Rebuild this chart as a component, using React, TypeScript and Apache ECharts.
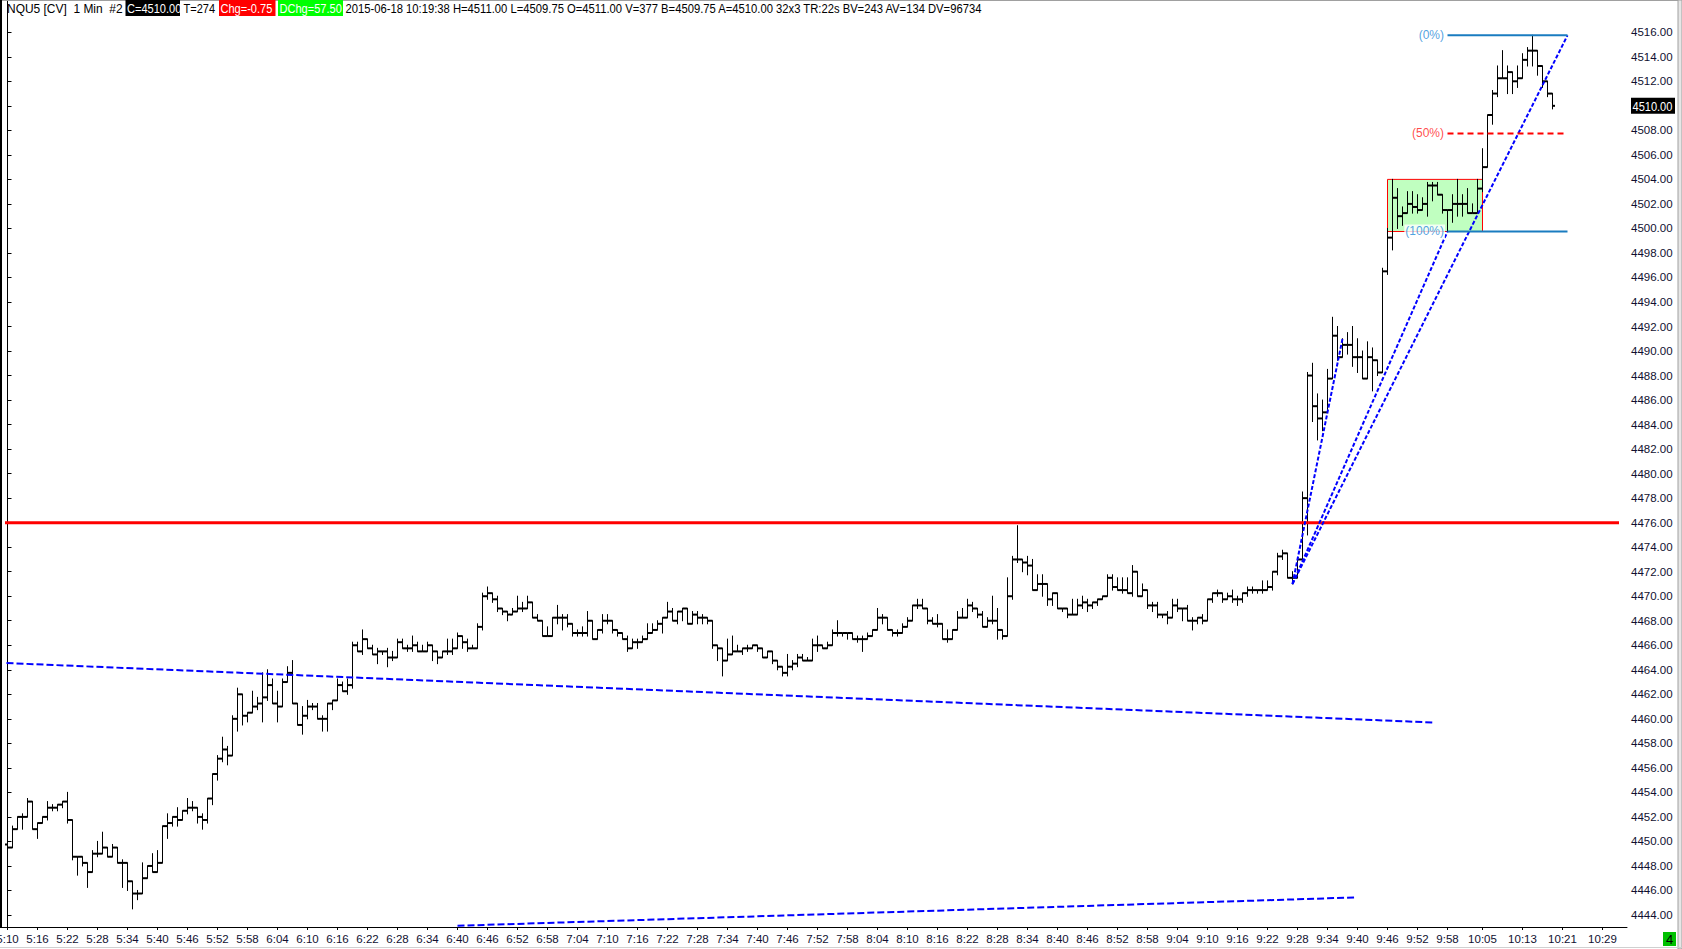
import { useEffect, useRef } from 'react';
import * as echarts from 'echarts';

// NQU5 1-minute bars, 5:10 .. 10:19 (bar index 0 = 5:10)
const START_MINUTE = 5 * 60 + 10;
const FIRST_OPEN = 4449.75;

const HIGHS = [
  4449.75, 4451.25, 4452.0, 4452.25, 4453.5, 4453.25, 4451.5, 4452.0, 4453.25, 4453.0,
  4453.0, 4453.25, 4454.0, 4451.25, 4448.75, 4448.25, 4447.75, 4449.25, 4450.0, 4450.75,
  4449.0, 4449.75, 4449.5, 4448.5, 4447.5, 4446.75, 4446.0, 4448.25, 4448.0, 4449.0,
  4449.25, 4451.25, 4452.25, 4452.0, 4452.75, 4452.5, 4453.5, 4453.25, 4452.25, 4452.25,
  4453.5, 4455.5, 4457.0, 4458.5, 4457.75, 4460.25, 4462.5, 4462.0, 4460.5, 4462.25,
  4461.75, 4463.75, 4464.0, 4463.25, 4462.25, 4463.25, 4464.25, 4464.75, 4461.25, 4461.0,
  4461.5, 4461.25, 4461.25, 4460.25, 4461.25, 4461.5, 4463.25, 4463.0, 4463.25, 4466.25,
  4466.25, 4467.25, 4466.5, 4466.0, 4465.75, 4465.5, 4465.75, 4465.5, 4466.5, 4466.5,
  4466.0, 4466.75, 4466.25, 4466.0, 4466.25, 4465.75, 4465.25, 4465.5, 4466.5, 4466.5,
  4467.0, 4466.75, 4466.5, 4466.0, 4467.75, 4470.25, 4470.75, 4470.25, 4470.0, 4469.0,
  4468.75, 4469.0, 4470.0, 4469.5, 4470.0, 4469.5, 4468.5, 4468.0, 4467.5, 4468.25,
  4469.25, 4468.5, 4468.5, 4467.75, 4467.25, 4467.5, 4468.75, 4467.75, 4467.25, 4468.5,
  4468.5, 4467.25, 4467.25, 4466.75, 4466.75, 4466.5, 4466.5, 4466.75, 4467.75, 4467.75,
  4468.0, 4468.25, 4469.5, 4469.0, 4468.75, 4469.0, 4468.75, 4468.75, 4468.75, 4468.5,
  4468.0, 4468.0, 4466.0, 4465.5, 4466.5, 4466.75, 4466.0, 4465.75, 4466.0, 4466.0,
  4466.0, 4465.5, 4465.5, 4465.0, 4464.75, 4464.25, 4465.25, 4464.75, 4465.25, 4465.25,
  4465.0, 4466.5, 4466.75, 4466.0, 4466.25, 4467.25, 4468.0, 4467.0, 4467.0, 4467.0,
  4466.75, 4466.75, 4467.0, 4467.25, 4469.0, 4468.5, 4468.25, 4467.25, 4467.25, 4467.75,
  4468.25, 4469.25, 4469.75, 4469.75, 4468.75, 4468.25, 4468.5, 4467.75, 4467.25, 4467.25,
  4468.75, 4469.0, 4469.75, 4469.5, 4468.75, 4468.75, 4468.25, 4470.0, 4469.0, 4467.25,
  4471.5, 4473.25, 4475.75, 4473.0, 4473.25, 4473.0, 4471.75, 4471.75, 4470.75, 4470.25,
  4470.25, 4469.0, 4469.0, 4469.75, 4469.75, 4470.0, 4469.75, 4469.5, 4469.75, 4470.0,
  4471.75, 4471.75, 4471.5, 4471.5, 4471.5, 4472.5, 4472.0, 4471.0, 4470.5, 4469.5,
  4469.5, 4468.5, 4468.75, 4469.75, 4469.75, 4469.0, 4469.25, 4468.25, 4468.25, 4468.5,
  4469.75, 4470.25, 4470.5, 4470.25, 4470.25, 4470.5, 4470.0, 4470.25, 4470.75, 4470.75,
  4470.5, 4471.25, 4471.25, 4472.0, 4473.5, 4473.75, 4473.5, 4472.0, 4473.0, 4478.5,
  4488.25, 4489.0, 4486.5, 4486.0, 4488.5, 4492.75, 4492.0, 4491.0, 4491.5, 4492.0,
  4491.0, 4490.0, 4490.75, 4490.25, 4488.5, 4496.75, 4500.0, 4504.0, 4503.25, 4501.75,
  4503.0, 4503.0, 4502.75, 4502.5, 4503.75, 4503.75, 4503.75, 4502.75, 4501.5, 4502.75,
  4504.0, 4502.75, 4503.25, 4502.0, 4504.0, 4506.5, 4509.25, 4511.25, 4513.25, 4514.5,
  4513.25, 4512.75, 4513.25, 4514.25, 4514.75, 4515.75, 4514.25, 4513.25, 4512.0, 4511.0,
];

const LOWS = [
  4449.5, 4449.75, 4451.0, 4451.0, 4452.25, 4451.0, 4450.25, 4451.5, 4451.75, 4452.5,
  4452.5, 4452.75, 4451.5, 4448.5, 4447.25, 4448.0, 4446.25, 4447.5, 4448.75, 4449.25,
  4448.75, 4448.75, 4448.25, 4446.25, 4446.0, 4444.5, 4445.25, 4446.75, 4447.0, 4447.5,
  4448.0, 4449.0, 4450.25, 4451.25, 4451.25, 4451.75, 4452.25, 4452.5, 4451.5, 4451.0,
  4451.5, 4453.0, 4455.0, 4456.5, 4456.25, 4457.0, 4459.0, 4459.5, 4459.75, 4460.5,
  4460.75, 4459.75, 4461.5, 4461.25, 4459.75, 4461.0, 4463.0, 4461.25, 4459.5, 4458.75,
  4460.0, 4460.75, 4460.0, 4459.0, 4459.0, 4460.75, 4461.5, 4462.25, 4462.0, 4462.5,
  4465.5, 4465.25, 4465.75, 4465.25, 4464.5, 4465.25, 4464.25, 4464.75, 4465.25, 4465.75,
  4465.5, 4465.5, 4465.5, 4465.5, 4465.5, 4464.75, 4464.5, 4465.25, 4465.25, 4465.25,
  4466.5, 4465.75, 4465.5, 4465.75, 4465.75, 4467.25, 4469.75, 4469.5, 4468.75, 4468.5,
  4468.0, 4468.5, 4468.75, 4468.75, 4469.0, 4468.25, 4468.0, 4466.75, 4466.75, 4466.75,
  4467.75, 4467.25, 4467.5, 4466.75, 4466.75, 4466.75, 4466.75, 4466.5, 4466.5, 4467.0,
  4467.75, 4467.0, 4466.75, 4466.5, 4465.5, 4465.75, 4465.75, 4466.25, 4466.5, 4467.0,
  4467.25, 4467.0, 4468.5, 4468.0, 4467.75, 4468.0, 4467.75, 4467.75, 4467.75, 4467.75,
  4467.75, 4465.75, 4464.75, 4463.5, 4464.75, 4465.25, 4465.5, 4465.25, 4465.5, 4465.75,
  4465.5, 4465.0, 4465.0, 4464.5, 4464.0, 4463.5, 4463.5, 4464.0, 4464.25, 4464.75,
  4464.75, 4465.0, 4465.5, 4465.75, 4465.75, 4466.0, 4466.75, 4466.75, 4466.5, 4466.5,
  4466.25, 4465.5, 4466.5, 4466.75, 4467.25, 4467.75, 4467.25, 4466.75, 4466.75, 4467.0,
  4467.75, 4468.0, 4469.0, 4469.0, 4467.75, 4467.75, 4467.5, 4466.5, 4466.25, 4466.5,
  4467.25, 4468.25, 4468.75, 4468.75, 4468.25, 4467.5, 4467.5, 4467.75, 4466.5, 4466.5,
  4467.5, 4469.75, 4472.75, 4472.0, 4471.75, 4470.5, 4470.5, 4470.0, 4469.25, 4469.25,
  4469.0, 4468.75, 4468.25, 4468.5, 4468.75, 4469.0, 4468.75, 4469.0, 4469.25, 4469.75,
  4470.25, 4470.5, 4470.5, 4470.25, 4470.25, 4470.0, 4470.0, 4470.25, 4469.0, 4468.75,
  4468.25, 4468.25, 4467.75, 4468.25, 4468.75, 4468.0, 4468.0, 4467.25, 4467.75, 4467.75,
  4468.25, 4469.5, 4470.0, 4469.5, 4469.75, 4469.5, 4469.25, 4469.5, 4470.0, 4470.25,
  4470.25, 4470.25, 4470.5, 4470.5, 4471.75, 4473.0, 4471.5, 4471.0, 4471.5, 4473.0,
  4475.0, 4484.25, 4482.75, 4483.5, 4485.0, 4487.75, 4489.25, 4489.75, 4489.75, 4488.75,
  4488.25, 4487.75, 4487.75, 4486.75, 4488.0, 4488.25, 4496.25, 4498.25, 4500.0, 4500.25,
  4501.25, 4501.25, 4501.25, 4501.5, 4501.0, 4502.25, 4502.75, 4501.25, 4499.75, 4500.5,
  4501.0, 4501.0, 4501.25, 4501.25, 4501.25, 4503.0, 4505.0, 4508.5, 4510.75, 4512.25,
  4511.0, 4511.0, 4511.5, 4512.25, 4513.25, 4513.25, 4512.5, 4511.5, 4510.75, 4509.75,
];

const CLOSES = [
  4449.5, 4451.0, 4452.0, 4452.0, 4453.25, 4451.0, 4451.5, 4452.0, 4452.75, 4452.75,
  4453.0, 4453.25, 4451.75, 4448.75, 4448.75, 4448.25, 4447.5, 4449.0, 4449.0, 4449.5,
  4448.75, 4449.5, 4448.25, 4448.25, 4446.75, 4445.75, 4445.75, 4447.0, 4448.0, 4447.5,
  4448.25, 4451.25, 4451.5, 4452.0, 4451.75, 4452.5, 4452.75, 4452.75, 4452.0, 4451.75,
  4453.5, 4455.5, 4456.75, 4457.5, 4457.0, 4460.0, 4462.0, 4460.25, 4460.5, 4461.0,
  4461.25, 4461.75, 4462.75, 4461.25, 4461.0, 4463.0, 4463.75, 4461.25, 4459.5, 4460.25,
  4461.0, 4461.0, 4460.0, 4460.0, 4461.25, 4461.5, 4462.75, 4462.25, 4462.75, 4466.0,
  4465.5, 4466.5, 4465.75, 4465.25, 4465.5, 4465.5, 4465.0, 4465.0, 4466.25, 4465.75,
  4465.75, 4466.0, 4465.5, 4465.5, 4466.0, 4465.5, 4465.0, 4465.5, 4465.5, 4465.75,
  4466.75, 4466.25, 4465.75, 4465.75, 4467.5, 4470.0, 4470.25, 4469.75, 4469.0, 4468.75,
  4468.5, 4468.75, 4469.0, 4469.0, 4469.5, 4468.25, 4468.0, 4466.75, 4466.75, 4468.25,
  4468.25, 4468.25, 4467.75, 4467.0, 4467.0, 4467.0, 4468.0, 4466.5, 4467.25, 4468.0,
  4468.0, 4467.25, 4467.0, 4466.5, 4465.75, 4466.25, 4466.25, 4466.5, 4467.0, 4467.25,
  4467.75, 4468.25, 4468.75, 4468.0, 4468.75, 4469.0, 4467.75, 4468.5, 4468.25, 4468.25,
  4468.0, 4466.0, 4465.75, 4464.75, 4465.25, 4465.5, 4465.5, 4465.75, 4465.75, 4466.0,
  4465.75, 4465.0, 4465.5, 4464.75, 4464.25, 4463.75, 4464.25, 4464.5, 4465.0, 4464.75,
  4464.75, 4466.0, 4466.0, 4465.75, 4466.0, 4467.0, 4467.0, 4467.0, 4467.0, 4466.5,
  4466.5, 4466.5, 4466.75, 4467.25, 4468.25, 4468.25, 4467.25, 4467.0, 4467.0, 4467.5,
  4468.0, 4469.25, 4469.25, 4469.0, 4468.0, 4467.75, 4467.75, 4466.5, 4466.5, 4467.25,
  4468.25, 4468.25, 4469.25, 4469.0, 4468.5, 4467.5, 4468.0, 4468.0, 4467.25, 4466.75,
  4470.0, 4473.0, 4473.0, 4472.75, 4472.5, 4470.5, 4471.0, 4471.0, 4469.75, 4470.25,
  4469.0, 4469.0, 4468.5, 4468.5, 4469.25, 4469.5, 4469.25, 4469.5, 4469.75, 4470.0,
  4471.5, 4470.75, 4470.5, 4470.5, 4470.25, 4472.0, 4470.0, 4470.5, 4469.25, 4469.25,
  4468.5, 4468.5, 4468.25, 4469.25, 4469.0, 4469.0, 4468.0, 4468.0, 4468.25, 4468.0,
  4469.75, 4470.25, 4470.25, 4469.75, 4470.0, 4469.75, 4469.75, 4470.25, 4470.5, 4470.5,
  4470.5, 4470.5, 4470.75, 4472.0, 4473.25, 4473.5, 4471.5, 4471.5, 4473.0, 4478.0,
  4488.0, 4485.5, 4484.5, 4485.0, 4487.75, 4491.25, 4489.5, 4490.5, 4490.5, 4489.5,
  4489.5, 4487.75, 4489.5, 4489.25, 4488.25, 4496.5, 4499.25, 4502.5, 4501.0, 4501.25,
  4502.0, 4501.75, 4501.5, 4502.0, 4503.5, 4503.5, 4502.75, 4501.5, 4501.5, 4502.0,
  4502.0, 4502.0, 4501.25, 4501.25, 4503.25, 4505.0, 4509.25, 4511.0, 4512.25, 4512.25,
  4512.75, 4512.0, 4512.25, 4513.75, 4514.5, 4514.5, 4513.25, 4512.0, 4511.0, 4510.0,
];

// bar indexes that carry a time label on the bottom axis
const TIME_LABEL_BARS = [
  0, 6, 12, 18, 24, 30, 36, 42, 48, 54, 60, 66, 72, 78, 84, 90, 96, 102, 108, 114,
  120, 126, 132, 138, 144, 150, 156, 162, 168, 174, 180, 186, 192, 198, 204, 210,
  216, 222, 228, 234, 240, 246, 252, 258, 264, 270, 276, 282, 288, 295, 303, 311, 319,
];
const PRICE_TICKS = [
  4444, 4446, 4448, 4450, 4452, 4454, 4456, 4458, 4460, 4462, 4464, 4466, 4468, 4470,
  4472, 4474, 4476, 4478, 4480, 4482, 4484, 4486, 4488, 4490, 4492, 4494, 4496, 4498,
  4500, 4502, 4504, 4506, 4508, 4510, 4512, 4514, 4516,
];

// drawings, in [bar index, price]
const RESISTANCE = [[-0.5, 4476], [322.3, 4476]];
const CHANNEL_UPPER = [[-0.2, 4464.55], [285, 4459.7]];
const CHANNEL_LOWER = [[90, 4443.12], [269.5, 4445.43]];
const FAN_ORIGIN = [257, 4471.0];
const FAN_TARGETS = [[267, 4491.0], [288, 4499.75], [312, 4515.75]];
const FIB_SPAN = [288, 312];
const FIB_LEVELS = [
  { label: '(0%)', price: 4515.75 },
  { label: '(50%)', price: 4507.75 },
  { label: '(100%)', price: 4499.75 },
];
const CONSOLIDATION_BOX = [276, 4504.0, 295, 4499.75];

// header strip: text, left edge, box width, box colour (null = plain), squeeze
const HEADER_PARTS: { text: string; x: number; w: number; bg: string | null; sx: number }[] = [
  { text: 'NQU5 [CV]  1 Min  #2', x: 7, w: 0, bg: null, sx: 0.92 },
  { text: 'C=4510.00', x: 125.5, w: 54.5, bg: '#000000', sx: 0.85 },
  { text: 'T=274', x: 183.5, w: 0, bg: null, sx: 0.85 },
  { text: 'Chg=-0.75', x: 219, w: 56.5, bg: '#ff0000', sx: 0.85 },
  { text: 'DChg=57.50', x: 278, w: 65, bg: '#00ff00', sx: 0.85 },
  {
    text: '2015-06-18 10:19:38 H=4511.00 L=4509.75 O=4511.00 V=377 B=4509.75 A=4510.00 32x3 TR:22s BV=243 AV=134 DV=96734',
    x: 345.5,
    w: 0,
    bg: null,
    sx: 0.865,
  },
];

const FONT = '"Liberation Sans", Arial, sans-serif';
const LABEL_COLOR = '#101030';

const W = 1682;
const H = 949;

function timeOf(bar: number) {
  const m = START_MINUTE + bar;
  return Math.floor(m / 60) + ':' + String(m % 60).padStart(2, '0');
}

export default function App() {
  const ref = useRef<HTMLDivElement>(null);

  useEffect(() => {
    if (!ref.current) return;
    const chart = echarts.init(ref.current, null, { renderer: 'svg' });

    const bars = CLOSES.map((c, i) => {
      const o = i === 0 ? FIRST_OPEN : CLOSES[i - 1];
      return [i, o, Math.max(HIGHS[i], o, c), Math.min(LOWS[i], o, c), c];
    });

    const line = (data: number[][], color: string, width: number, dash: any, z = 4) => ({
      type: 'line',
      data,
      symbol: 'none',
      silent: true,
      clip: true,
      z,
      lineStyle: { color, width, type: dash },
    });

    const option: any = {
      animation: false,
      backgroundColor: '#ffffff',
      grid: { left: 0, right: 55, top: 1, bottom: 22, containLabel: false, outerBoundsMode: 'none' },
      xAxis: {
        type: 'value',
        min: -1.5,
        max: 323.9,
        axisLine: { show: true, onZero: false, lineStyle: { color: '#000000', width: 1 } },
        axisTick: { show: true, length: 3, customValues: TIME_LABEL_BARS, lineStyle: { color: '#000000' } },
        axisLabel: {
          customValues: TIME_LABEL_BARS,
          formatter: (v: number) => timeOf(v),
          color: LABEL_COLOR,
          fontFamily: FONT,
          fontSize: 11.5,
          margin: 6,
        },
        splitLine: { show: false },
      },
      yAxis: {
        type: 'value',
        position: 'right',
        min: 4443.02,
        max: 4518.55,
        axisLine: { show: true, lineStyle: { color: '#000000', width: 1 } },
        axisTick: { show: true, length: 4, customValues: PRICE_TICKS, lineStyle: { color: '#000000' } },
        axisLabel: {
          customValues: PRICE_TICKS,
          formatter: (v: number) => v.toFixed(2),
          color: LABEL_COLOR,
          fontFamily: FONT,
          fontSize: 11.5,
          margin: 4,
        },
        splitLine: { show: false },
      },
      series: [
        {
          type: 'custom',
          silent: true,
          z: 1,
          data: [CONSOLIDATION_BOX],
          renderItem: (_p: any, api: any) => {
            const a = api.coord([api.value(0), api.value(1)]);
            const b = api.coord([api.value(2), api.value(3)]);
            return {
              type: 'rect',
              shape: { x: a[0], y: a[1], width: b[0] - a[0], height: b[1] - a[1] },
              style: { fill: '#c0ffc0', stroke: '#ff0000', lineWidth: 1 },
            };
          },
        },
        {
          type: 'custom',
          silent: true,
          clip: true,
          z: 2,
          data: bars,
          renderItem: (_p: any, api: any) => {
            const x = api.value(0);
            const hi = api.coord([x, api.value(2)]);
            const px = hi[0];
            const yl = api.coord([x, api.value(3)])[1];
            const yo = api.coord([x, api.value(1)])[1];
            const yc = api.coord([x, api.value(4)])[1];
            const ink = '#000000';
            return {
              type: 'group',
              children: [
                { type: 'line', shape: { x1: px, y1: hi[1] - 0.5, x2: px, y2: yl + 0.5 }, style: { stroke: ink, lineWidth: 1 } },
                { type: 'line', shape: { x1: px - 2.5, y1: yo, x2: px, y2: yo }, style: { stroke: ink, lineWidth: 2 } },
                { type: 'line', shape: { x1: px, y1: yc, x2: px + 2.5, y2: yc }, style: { stroke: ink, lineWidth: 2 } },
              ],
            };
          },
        },
        line(CHANNEL_UPPER, '#0000ff', 2, [7, 3]),
        line(CHANNEL_LOWER, '#0000ff', 2, [7, 3]),
        line(RESISTANCE, '#ff0000', 3, 'solid'),
        ...FAN_TARGETS.map((t) => line([FAN_ORIGIN, t], '#0000ff', 2, [4, 2], 5)),
        line([[FIB_SPAN[0], FIB_LEVELS[0].price], [FIB_SPAN[1], FIB_LEVELS[0].price]], '#1a7cc0', 2, 'solid', 5),
        line([[FIB_SPAN[0], FIB_LEVELS[1].price], [FIB_SPAN[1], FIB_LEVELS[1].price]], '#ff0000', 2, [6, 4], 5),
        line([[FIB_SPAN[0], FIB_LEVELS[2].price], [FIB_SPAN[1], FIB_LEVELS[2].price]], '#1a7cc0', 2, 'solid', 5),
        {
          type: 'scatter',
          silent: true,
          z: 6,
          symbolSize: 1,
          itemStyle: { color: 'transparent' },
          data: FIB_LEVELS.map((f, k) => ({
            value: [FIB_SPAN[0], f.price],
            label: {
              show: true,
              position: 'left',
              distance: 2,
              formatter: f.label,
              color: k === 1 ? '#ff1a1a' : '#1f8ad8',
              backgroundColor: '#ffffff',
              padding: [1, 1],
              fontFamily: FONT,
              fontSize: 12,
            },
          })),
        },
      ],
    };

    chart.setOption(option);

    const lastClose = CLOSES[CLOSES.length - 1];
    const yLast = chart.convertToPixel({ yAxisIndex: 0 }, lastClose) as number;

    const headerEls: any[] = [];
    HEADER_PARTS.forEach((p) => {
      if (p.bg) {
        headerEls.push({ type: 'rect', shape: { x: p.x, y: 0, width: p.w, height: 16 }, style: { fill: p.bg }, z: 10 });
      }
      headerEls.push({
        type: 'text',
        x: p.x + (p.bg ? 1.5 : 0),
        y: 8.5,
        scaleX: p.sx,
        style: {
          text: p.text,
          fill: p.bg ? '#ffffff' : '#000000',
          fontFamily: FONT,
          fontSize: 13,
          verticalAlign: 'middle',
          align: 'left',
        },
        z: 11,
      });
    });

    chart.setOption({
      graphic: [
        { type: 'line', shape: { x1: 0, y1: 0.5, x2: W, y2: 0.5 }, style: { stroke: '#a0a0a0', lineWidth: 1 }, z: 10 },
        { type: 'line', shape: { x1: 1, y1: 0, x2: 1, y2: 927 }, style: { stroke: '#000000', lineWidth: 2 }, z: 10 },
        { type: 'rect', shape: { x: 1678, y: 0, width: 4, height: H }, style: { fill: '#e6e6e6', stroke: '#a0a0a0', lineWidth: 1 }, z: 10 },
        { type: 'line', shape: { x1: 0, y1: 947.5, x2: W, y2: 947.5 }, style: { stroke: '#d0d0d0', lineWidth: 1 }, z: 10 },
        ...headerEls,
        { type: 'rect', shape: { x: 1631, y: yLast - 8, width: 44, height: 16 }, style: { fill: '#000000' }, z: 10 },
        {
          type: 'text',
          x: 1632.5,
          y: yLast + 0.5,
          scaleX: 0.85,
          style: {
            text: lastClose.toFixed(2),
            fill: '#ffffff',
            fontFamily: FONT,
            fontSize: 13,
            verticalAlign: 'middle',
            align: 'left',
          },
          z: 11,
        },
        { type: 'rect', shape: { x: 1663, y: 932, width: 13, height: 14 }, style: { fill: '#00c000' }, z: 10 },
        {
          type: 'text',
          x: 1669.5,
          y: 939.5,
          style: { text: '4', fill: '#000000', fontFamily: FONT, fontSize: 13, align: 'center', verticalAlign: 'middle' },
          z: 11,
        },
      ],
    });

    return () => chart.dispose();
  }, []);

  return (
    <div style={{ position: 'fixed', left: 0, top: 0, width: W, height: H, background: '#ffffff' }}>
      <div ref={ref} style={{ width: W, height: H }} />
    </div>
  );
}
